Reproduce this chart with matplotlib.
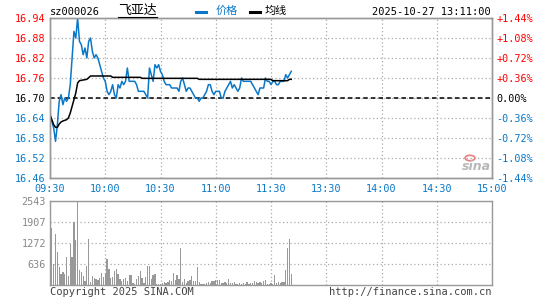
import numpy as np
import matplotlib.pyplot as plt

plt.rcParams['font.family'] = ['DejaVu Sans Mono', 'Noto Sans CJK SC']

# data (one point per minute from 09:30)
prev_close = 16.70
price = [16.65, 16.63, 16.61, 16.57, 16.62, 16.69, 16.71, 16.68, 16.70, 16.69,
         16.70, 16.74, 16.82, 16.90, 16.88, 16.94, 16.87, 16.86, 16.83, 16.85,
         16.82, 16.87, 16.88, 16.84, 16.82, 16.83, 16.82, 16.80, 16.78, 16.76,
         16.75, 16.72, 16.71, 16.72, 16.74, 16.71, 16.70, 16.74, 16.73, 16.75,
         16.74, 16.75, 16.79, 16.75, 16.75,
         16.75, 16.75, 16.74, 16.72, 16.72, 16.72, 16.72, 16.71, 16.70, 16.79,
         16.77, 16.75, 16.80, 16.79, 16.80, 16.78, 16.77, 16.75, 16.74, 16.74,
         16.74, 16.73, 16.73, 16.73, 16.73, 16.72, 16.75, 16.76, 16.74, 16.72,
         16.73, 16.73, 16.72, 16.71, 16.70, 16.70, 16.69, 16.70, 16.70, 16.71,
         16.72, 16.74, 16.74, 16.72,
         16.71, 16.72, 16.72, 16.72, 16.70, 16.70, 16.72, 16.73, 16.74, 16.75,
         16.73, 16.74, 16.73, 16.72, 16.73, 16.76, 16.75, 16.75, 16.75, 16.75,
         16.75, 16.74, 16.73, 16.72, 16.71, 16.73, 16.73, 16.73, 16.76, 16.75,
         16.75, 16.74, 16.75, 16.75, 16.74, 16.74, 16.75, 16.75, 16.75, 16.77,
         16.76, 16.77, 16.78]
avg = ([16.65, 16.635, 16.62, 16.612, 16.612, 16.622, 16.628, 16.631, 16.633, 16.635,
        16.64, 16.655, 16.675, 16.695, 16.715, 16.745, 16.752, 16.753, 16.754, 16.755,
        16.756, 16.761]
       + [16.766] * 12 + [16.762] * 16 + [16.759] * 31 + [16.756] * 40
       + [16.752] * 9 + [16.756] * 2)
volume = [404, 1735, 646, 1534, 1009, 555, 343, 404, 343, 858,
          282, 1231, 858, 1907, 1352, 2543, 444, 383, 262, 121,
          585, 1403, 100, 282, 202, 192, 161, 222, 373, 252,
          373, 797, 474, 222, 252, 424, 494, 343, 192, 121,
          192, 222, 131, 313, 313, 71, 40, 192, 282, 434,
          222, 71, 252, 585, 585, 172, 313, 343, 40, 40,
          40, 71, 100, 60, 100, 151, 131, 363, 151, 313,
          192, 1110, 100, 192, 71, 121, 151, 282, 131, 121,
          555, 100, 40, 40, 40, 71, 91, 71, 121, 131,
          161, 161, 161, 71, 71, 100, 71, 192, 71, 71,
          100, 40, 40, 71, 40, 71, 40, 100, 40, 71,
          71, 131, 100, 71, 100, 71, 131, 161, 40, 40,
          71, 40, 313, 71, 100, 71, 100, 100, 464, 1110, 1403, 343]
time_labels = ['09:30', '10:00', '10:30', '11:00', '11:30', '13:30', '14:00', '14:30', '15:00']
price_ticks = [16.46, 16.52, 16.58, 16.64, 16.70, 16.76, 16.82, 16.88, 16.94]
vol_ticks = [636, 1272, 1907, 2543]

minutes = np.arange(len(price))
RED = '#ff0000'
BLUE = '#0a78c8'
GRAY = '#999999'


def fx(x):
    return x / 545


def fy(y):
    return 1 - y / 300


fig = plt.figure(figsize=(5.45, 3), dpi=100)
ax = fig.add_axes([fx(50), fy(178), fx(442), 160 / 300])
axv = fig.add_axes([fx(50), fy(285), fx(442), 84 / 300])

# price panel
ax.plot(minutes, price, color=BLUE, lw=1.1, zorder=3)
ax.plot(minutes, avg, color='black', lw=1.1, zorder=4)
ax.set_xlim(0, 240)
ax.set_ylim(price_ticks[0], price_ticks[-1])
ax.set_xticks(np.arange(0, 241, 30))
ax.set_yticks(price_ticks)
ax.grid(True, color='#aaaaaa', ls=(0, (1, 2)), lw=0.9)
ax.axhline(prev_close, color='black', ls=(0, (3, 2)), lw=1.1, zorder=2)
ax.tick_params(axis='y', length=0, labelsize=7.3, pad=3)
ax.tick_params(axis='x', length=0, labelsize=7.3, pad=4.5)
ax.set_xticklabels(time_labels, color=BLUE)
ax.set_yticklabels([f'{p:.2f}' for p in price_ticks])
for lab, p in zip(ax.get_yticklabels(), price_ticks):
    lab.set_color(RED if p > prev_close + 1e-9 else ('black' if abs(p - prev_close) < 1e-9 else BLUE))

axr = ax.twinx()
axr.set_ylim(ax.get_ylim())
axr.set_yticks(price_ticks)
pct = [(p - prev_close) / prev_close * 100 for p in price_ticks]
axr.set_yticklabels([('+' if v > 0.001 else ('-' if v < -0.001 else '')) + f'{abs(v):.2f}%' for v in pct])
axr.tick_params(length=0, labelsize=7.3, pad=3)
for lab, v in zip(axr.get_yticklabels(), pct):
    lab.set_color(RED if v > 0.001 else ('black' if abs(v) < 0.001 else BLUE))

for a in (ax, axr, axv):
    for s in a.spines.values():
        s.set_color(GRAY)
        s.set_linewidth(1.0)

# volume panel
axv.bar(np.arange(len(volume)), volume, width=0.7, color=GRAY, linewidth=0)
axv.set_xlim(0, 240)
axv.set_ylim(0, vol_ticks[-1])
axv.set_xticks(np.arange(0, 241, 30))
axv.set_yticks(vol_ticks)
axv.set_xticklabels([])
axv.set_yticklabels([str(v) for v in vol_ticks], color='#888888')
axv.grid(True, color='#aaaaaa', ls=(0, (1, 2)), lw=0.9)
axv.set_axisbelow(True)
axv.tick_params(length=0, labelsize=7.3, pad=3)

# header
fig.text(fx(50), fy(12), 'sz000026', fontsize=7.5, va='center', ha='left')
fig.text(fx(118), fy(10.5), '飞亚达', fontsize=9.3, va='center', ha='left',
         family=['Noto Sans CJK SC'])
fig.add_artist(plt.Line2D([fx(118), fx(157)], [fy(16.5), fy(16.5)], color='black', lw=0.8))
fig.add_artist(plt.Line2D([fx(196), fx(206)], [fy(12), fy(12)], color=BLUE, lw=2.2))
fig.text(fx(216), fy(11), '价格', fontsize=8, va='center', ha='left', color=BLUE,
         family=['Noto Sans CJK SC'])
fig.add_artist(plt.Line2D([fx(250), fx(260)], [fy(12), fy(12)], color='black', lw=2.2))
fig.text(fx(265), fy(11), '均线', fontsize=8, va='center', ha='left',
         family=['Noto Sans CJK SC'])
fig.text(fx(491), fy(12), '2025-10-27 13:11:00', fontsize=7.5, va='center', ha='right')

# sina mark
fig.text(fx(476), fy(166), 'sina', fontsize=9, style='italic', weight='bold',
         color='#b8b8b8', ha='center', va='center', family=['DejaVu Sans'])
fig.add_artist(plt.Circle((fx(470), fy(158)), 0.009, transform=fig.transFigure,
                          fill=False, ec='#e88080', lw=1.2))

# footer
fig.text(fx(50), fy(292), 'Copyright 2025 SINA.COM', fontsize=7.5, va='center', ha='left', color='#444444')
fig.text(fx(491), fy(292), 'http://finance.sina.com.cn', fontsize=7.5, va='center', ha='right', color='#444444')

fig.savefig('out.png', dpi=100)
